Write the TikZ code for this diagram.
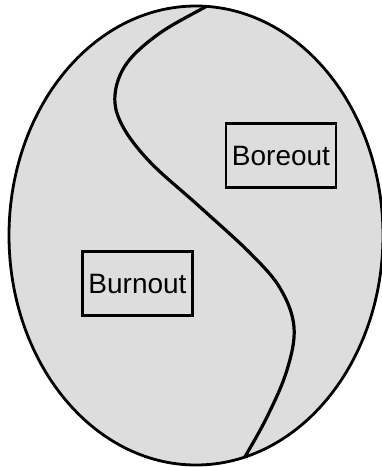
\documentclass[tikz,border=0pt]{standalone}
\usepackage{fontspec}
\setmainfont{Liberation Sans}
\definecolor{fillgray}{RGB}{221,221,221}
\begin{document}
\begin{tikzpicture}[x=1pt,y=-1pt,
  box/.style={draw=black, line width=2.8pt, minimum width=110pt, minimum height=64pt, inner sep=0pt, font=\fontsize{28}{32}\selectfont},
  border/.style={line width=2.8pt},
  divider/.style={line width=3.2pt, line cap=round}]
\useasboundingbox (0,0) rectangle (382,467);
\fill[white] (0,0) rectangle (382,467);
\coordinate (c) at (196,235.5);
\fill[fillgray] (c) ellipse [x radius=187pt, y radius=229.5pt];
\begin{scope}
\clip (c) ellipse [x radius=187pt, y radius=229.5pt];
\draw[divider] plot[smooth, tension=0.6] coordinates {(224,-4) (207,6) (160,33) (127,63) (115,95) (122,125) (150,162) (200,207) (250,253) (280,288) (294,327) (287,370) (267,417) (242,462) (236,473)};
\end{scope}
\draw[border] (c) ellipse [x radius=187pt, y radius=229.5pt];
\node[box] (boreout) at (281,155.5) {Boreout};
\node[box] (burnout) at (137.5,283.5) {Burnout};
\end{tikzpicture}
\end{document}
